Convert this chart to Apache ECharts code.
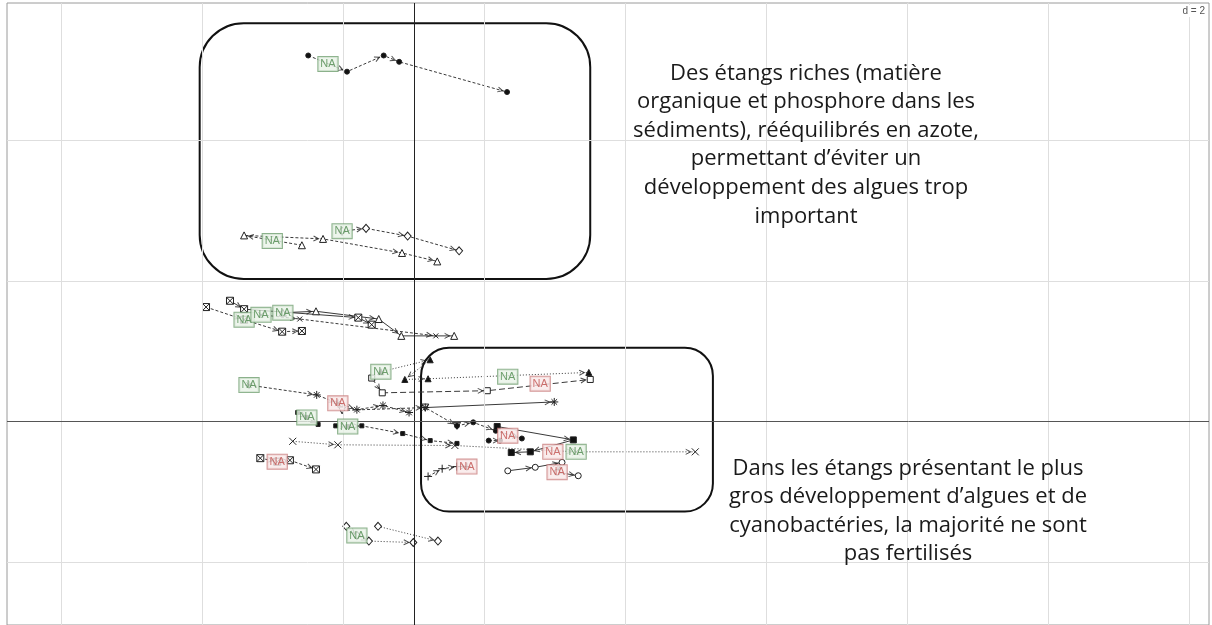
<!DOCTYPE html>
<html>
<head>
<meta charset="utf-8">
<script src="https://cdn.jsdelivr.net/npm/echarts@6/dist/echarts.min.js"></script>
<style>html,body{margin:0;padding:0;background:#fff}#c{width:1212px;height:625px}</style>
</head>
<body>
<div id="c"></div>
<script>
// ---- data (plot units, d = 2 grid) ----
const gridX = [-5, -3, -1, 1, 3, 5, 7, 9, 11];
const gridY = [-2, 2, 4];

const trajCircleTop   = [[-1.50,5.21],[-0.95,4.98],[-0.43,5.21],[-0.21,5.12],[1.32,4.69]];
const trajTriangleTop = [[-1.59,2.51],[-2.41,2.65],[-1.29,2.60],[-0.17,2.40],[0.33,2.28]];
const trajDiamondTop  = [[-1.02,2.71],[-0.68,2.75],[-0.09,2.64],[0.64,2.43]];
const trajBoxA        = [[-2.95,1.63],[-2.41,1.45],[-1.87,1.28],[-1.59,1.29]];
const trajBoxB        = [[-2.61,1.72],[-2.41,1.60],[-0.79,1.48],[-0.60,1.38]];
const trajTriangleMid = [[-1.86,1.55],[-1.39,1.57],[-0.50,1.46],[-0.18,1.22],[0.57,1.22]];
const trajCrossMid    = [[-2.17,1.52],[-1.62,1.46],[0.31,1.22]];
const trajFilledTri   = [[-0.47,0.71],[0.23,0.88],[-0.13,0.60],[0.20,0.61],[2.48,0.70]];
const trajSquareOpen  = [[-0.60,0.62],[-0.45,0.41],[1.04,0.44],[2.50,0.60]];
const trajStar        = [[-2.34,0.52],[-1.38,0.38],[-1.08,0.26],[-0.81,0.17],[-0.44,0.23],[-0.07,0.13]];
const trajTriDown     = [[-1.02,0.16],[0.16,0.20],[0.61,-0.06]];
const trajStarSolid   = [[0.16,0.20],[1.99,0.28]];
const trajFilledCirc  = [[0.61,-0.06],[0.84,-0.01],[1.16,-0.13],[1.53,-0.24]];
const trajFilledSq    = [[1.18,-0.07],[2.26,-0.26],[1.65,-0.43],[1.38,-0.44]];
const trajFilledCircB = [[1.06,-0.27],[1.22,-0.27]];
const trajCrossX      = [[-1.72,-0.28],[-1.08,-0.33],[0.58,-0.34],[2.30,-0.43],[3.99,-0.43]];
const trajSmallA      = [[-1.65,0.13],[-1.52,0.06],[-1.36,-0.04]];
const trajSmallB      = [[-1.11,-0.06],[-0.94,-0.07],[-0.74,-0.06],[-0.16,-0.17],[0.23,-0.27],[0.61,-0.31]];
const trajPlus        = [[0.20,-0.78],[0.40,-0.67],[0.61,-0.64],[0.75,-0.64]];
const trajCircleOpen  = [[1.33,-0.70],[1.72,-0.65],[2.10,-0.58],[2.03,-0.72],[2.33,-0.77]];
const trajBoxLow      = [[-2.18,-0.52],[-1.94,-0.57],[-1.76,-0.55],[-1.39,-0.68]];
const trajDiamondLowA = [[-0.96,-1.49],[-0.81,-1.62],[-0.64,-1.70],[-0.01,-1.72]];
const trajDiamondLowB = [[-0.51,-1.49],[0.34,-1.70]];

const labelsGreen = [[-1.22,5.09],[-2.01,2.57],[-1.02,2.71],[-2.41,1.45],[-2.17,1.52],[-1.86,1.55],
                     [-0.47,0.71],[1.33,0.64],[-2.34,0.52],[-1.52,0.06],[-0.94,-0.07],[2.30,-0.43],[-0.81,-1.62]];
const labelsRed   = [[1.79,0.54],[-1.08,0.26],[1.33,-0.20],[1.97,-0.43],[0.75,-0.64],[2.03,-0.72],[-1.94,-0.57]];

// annotation boxes [x1, yTop, x2, yBottom]
const boxes = [[-3.04,5.67,2.50,2.03],[0.10,1.05,4.24,-1.28]];

const note1 = ['Des étangs riches (matière','organique et phosphore dans les','sédiments), rééquilibrés en azote,','permettant d\u2019éviter un','développement des algues trop','important'];
const note2 = ['Dans les étangs présentant le plus','gros développement d\u2019algues et de','cyanobactéries, la majorité ne sont','pas fertilisés'];

// ---- styles ----
const S = {
  boxX: 'path://M0,0H10V10H0Z M0,0L10,10 M10,0L0,10',
  star: 'path://M5,0V10 M0,5H10 M1.5,1.5L8.5,8.5 M8.5,1.5L1.5,8.5',
  cross: 'path://M0,0L10,10 M10,0L0,10',
  plus: 'path://M5,0V10 M0,5H10'
};
const DASH = [3, 2], DOT = [1, 2], SOLID = 'solid';
const trajDefs = [
  {d: trajCircleTop,   sym: 'circle',   size: 5, fill: '#111', dash: DASH},
  {d: trajTriangleTop, sym: 'triangle', size: 7, fill: '#fff', dash: DASH},
  {d: trajDiamondTop,  sym: 'diamond',  size: [7,8], fill: '#fff', dash: DASH},
  {d: trajBoxA,        sym: S.boxX,     size: 7, fill: '#fff', dash: DASH},
  {d: trajBoxB,        sym: S.boxX,     size: 7, fill: '#fff', dash: SOLID},
  {d: trajTriangleMid, sym: 'triangle', size: 7, fill: '#fff', dash: SOLID},
  {d: trajCrossMid,    sym: S.cross,    size: 5, fill: 'rgba(0,0,0,0)', dash: DASH},
  {d: trajFilledTri,   sym: 'triangle', size: 6, fill: '#111', dash: DOT},
  {d: trajSquareOpen,  sym: 'rect',     size: 6, fill: '#fff', dash: [6, 3]},
  {d: trajStar,        sym: S.star,     size: 8, fill: 'rgba(0,0,0,0)', dash: DASH},
  {d: trajTriDown,     sym: 'triangle', size: 7, fill: '#fff', dash: DASH, rot: 180},
  {d: trajStarSolid,   sym: S.star,     size: 8, fill: 'rgba(0,0,0,0)', dash: SOLID},
  {d: trajFilledCirc,  sym: 'circle',   size: 5, fill: '#111', dash: DASH},
  {d: trajFilledSq,    sym: 'rect',     size: 6, fill: '#111', dash: SOLID},
  {d: trajFilledCircB, sym: 'circle',   size: 5, fill: '#111', dash: DASH},
  {d: trajCrossX,      sym: S.cross,    size: 7, fill: 'rgba(0,0,0,0)', dash: DOT},
  {d: trajSmallA,      sym: 'rect',     size: 4, fill: '#111', dash: DASH},
  {d: trajSmallB,      sym: 'rect',     size: 4, fill: '#111', dash: DASH},
  {d: trajPlus,        sym: S.plus,     size: 8, fill: 'rgba(0,0,0,0)', dash: DASH},
  {d: trajCircleOpen,  sym: 'circle',   size: 6, fill: '#fff', dash: SOLID},
  {d: trajBoxLow,      sym: S.boxX,     size: 7, fill: '#fff', dash: DASH},
  {d: trajDiamondLowA, sym: 'diamond',  size: [7,8], fill: '#fff', dash: DOT},
  {d: trajDiamondLowB, sym: 'diamond',  size: [7,8], fill: '#fff', dash: DOT}
];

// arrow heads derived from trajectory segments
function arrowsOf(pts) {
  const out = [];
  for (let i = 1; i < pts.length; i++) {
    const [x0, y0] = pts[i - 1], [x1, y1] = pts[i];
    const dx = x1 - x0, dy = y1 - y0, len = Math.hypot(dx, dy);
    if (len < 1e-6) continue;
    const back = Math.min(0.1, len * 0.4);
    out.push({value: [x1 - dx / len * back, y1 - dy / len * back],
              symbolRotate: Math.atan2(dy, dx) * 180 / Math.PI - 90});
  }
  return out;
}

const series = [];
// grid + axes lines
const gridMark = [];
gridX.forEach(v => gridMark.push({xAxis: v, lineStyle: {color: '#dedede', width: 1, type: 'solid'}}));
gridY.forEach(v => gridMark.push({yAxis: v, lineStyle: {color: '#dedede', width: 1, type: 'solid'}}));
gridMark.push({xAxis: 0, lineStyle: {color: '#222', width: 1, type: 'solid'}});
gridMark.push({yAxis: 0, lineStyle: {color: '#555', width: 1, type: 'solid'}});
series.push({
  type: 'line', data: [[0, 0]], showSymbol: false, lineStyle: {opacity: 0}, z: 1, silent: true,
  markLine: {silent: true, symbol: ['none', 'none'], label: {show: false}, animation: false, data: gridMark}
});

// rounded boxes
const boxRadius = [44, 28];
series.push({
  type: 'custom', z: 2, silent: true,
  data: boxes,
  encode: {x: [0, 2], y: [1, 3]},
  renderItem: function (params, api) {
    const p1 = api.coord([api.value(0), api.value(1)]);
    const p2 = api.coord([api.value(2), api.value(3)]);
    return {type: 'rect',
      shape: {x: p1[0], y: p1[1], width: p2[0] - p1[0], height: p2[1] - p1[1], r: boxRadius[params.dataIndex]},
      style: {fill: 'none', stroke: '#111', lineWidth: 2}};
  }
});

const allArrows = [];
trajDefs.forEach(t => {
  series.push({
    type: 'line', data: t.d, z: 3, silent: true,
    symbol: t.sym, symbolSize: t.size, symbolRotate: t.rot || 0, showAllSymbol: true,
    itemStyle: {color: t.fill, borderColor: '#222', borderWidth: 1},
    lineStyle: {color: '#3a3a3a', width: 1, type: t.dash}
  });
  arrowsOf(t.d).forEach(a => allArrows.push(a));
});

series.push({
  type: 'scatter', data: allArrows, z: 4, silent: true,
  symbol: 'path://M0,10L5,0L10,10', symbolSize: [5, 5],
  itemStyle: {color: 'rgba(0,0,0,0)', borderColor: '#222', borderWidth: 1}
});

function labelSeries(data, txt, bg, border) {
  return {
    type: 'scatter', data: data, z: 6, silent: true, symbolSize: 0,
    label: {show: true, position: 'inside', formatter: 'NA', fontSize: 11,
      fontFamily: 'Liberation Sans, Arial, sans-serif', color: txt,
      backgroundColor: bg, borderColor: border, borderWidth: 1, padding: [2, 2, 1, 2]}
  };
}
series.push(labelSeries(labelsGreen, '#4d8a4d', '#e9f3e7', '#6e9e6e'));
series.push(labelSeries(labelsRed, '#c0504d', '#f9e9e9', '#c87a7a'));

const chart = echarts.init(document.getElementById('c'), null, {renderer: 'canvas'});
chart.setOption({
  animation: false,
  backgroundColor: '#fff',
  grid: {left: 7, right: 3, top: 3, bottom: -2, show: true, borderColor: '#9a9a9a', borderWidth: 1, backgroundColor: 'transparent'},
  xAxis: {type: 'value', min: -5.773, max: 11.277, show: false},
  yAxis: {type: 'value', min: -2.894, max: 5.957, show: false},
  series: series,
  graphic: [
    {type: 'text', x: 806, y: 59, style: {text: note1.join('\n'), fill: '#1a1a1a',
      font: '22px "Open Sans", sans-serif', lineHeight: 28.6, align: 'center', verticalAlign: 'top'}, z: 10, silent: true},
    {type: 'text', x: 908, y: 454, style: {text: note2.join('\n'), fill: '#1a1a1a',
      font: '22px "Open Sans", sans-serif', lineHeight: 28.6, align: 'center', verticalAlign: 'top'}, z: 10, silent: true},
    {type: 'text', right: 5, top: 5, style: {text: 'd = 2', fill: '#555', font: '10px "Liberation Sans", Arial, sans-serif',
      backgroundColor: '#fff', padding: [1, 2]}, z: 10, silent: true}
  ]
});
</script>
</body>
</html>
